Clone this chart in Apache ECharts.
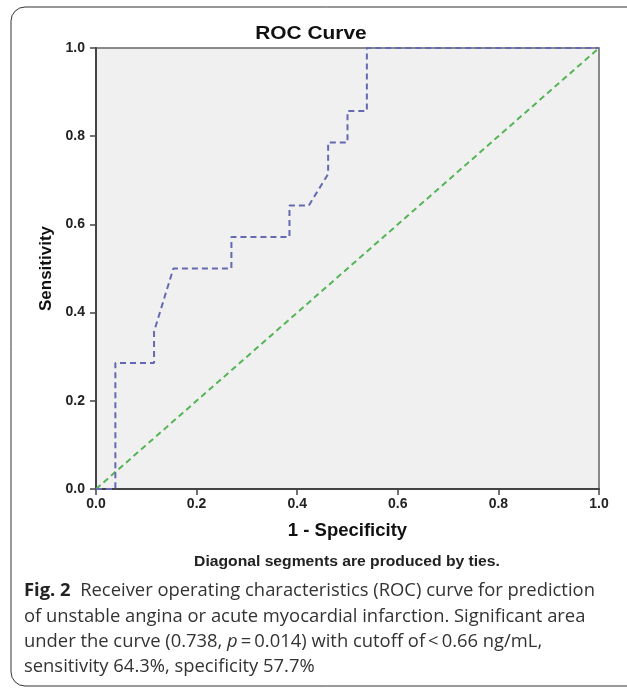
<!DOCTYPE html>
<html><head><meta charset="utf-8">
<script src="https://cdn.jsdelivr.net/npm/echarts@6/dist/echarts.min.js"></script>
<style>html,body{margin:0;padding:0;background:#fff}#c{width:627px;height:688px}</style>
</head><body><div id="c"></div>
<script>
// ROC curve (1 - specificity, sensitivity)
const fpr = [0, 0.0385, 0.0385, 0.1154, 0.1154, 0.1538, 0.2692, 0.2692, 0.3846, 0.3846, 0.4231, 0.4615, 0.4615, 0.5, 0.5, 0.5385, 0.5385, 1.0];
const tpr = [0, 0, 0.2857, 0.2857, 0.3571, 0.5, 0.5, 0.5714, 0.5714, 0.6429, 0.6429, 0.7143, 0.7857, 0.7857, 0.8571, 0.8571, 1.0, 1.0];
// reference line
const refX = [0, 1];
const refY = [0, 1];
const tickLabels = ['0.0', '0.2', '0.4', '0.6', '0.8', '1.0'];
const titleText = 'ROC Curve';
const xName = '1 - Specificity';
const yName = 'Sensitivity';
const noteText = 'Diagonal segments are produced by ties.';
const captionLines = [
  '{b|Fig. 2}  Receiver operating characteristics (ROC) curve for prediction',
  'of unstable angina or acute myocardial infarction. Significant area',
  'under the curve (0.738, {i|p}\u2009=\u20090.014) with cutoff of\u2009<\u20090.66 ng/mL,',
  'sensitivity 64.3%, specificity 57.7%'
];

const spss = "'Liberation Sans', Arial, sans-serif";
const capFont = "'Open Sans', 'Noto Sans', sans-serif";
const capSize = 18.4;

const chart = echarts.init(document.getElementById('c'), null, {renderer: 'canvas'});
const tickFmt = v => tickLabels[Math.round(v / 0.2)];

const graphics = [
  {type: 'rect', z: -10, shape: {x: 11, y: 7, width: 640, height: 679, r: 14},
   style: {fill: '#fff', stroke: '#333', lineWidth: 1}},
  {type: 'text', x: 311, y: 34, scaleX: 1.1, style: {text: titleText, font: "bold 19px " + spss, fill: '#111', align: 'center', verticalAlign: 'middle'}},
  {type: 'text', x: 347, y: 562, scaleX: 1.12, style: {text: noteText, font: "bold 14px " + spss, fill: '#222', align: 'center', verticalAlign: 'middle'}}
];
const capY = [591, 617, 642, 667];
captionLines.forEach((t, i) => {
  graphics.push({type: 'text', x: 24, y: capY[i], style: {
    text: t, fontFamily: capFont, fontSize: capSize, fill: '#333', align: 'left', verticalAlign: 'middle',
    rich: {
      b: {fontFamily: capFont, fontSize: capSize, fontWeight: 'bold', fill: '#222'},
      i: {fontFamily: capFont, fontSize: capSize, fontStyle: 'italic', fill: '#333'}
    }
  }});
});

chart.setOption({
  animation: false,
  backgroundColor: '#fff',
  graphic: graphics,
  grid: {left: 96, top: 48, right: 28, bottom: 199, show: true, backgroundColor: '#f0f0f0', borderColor: '#666', borderWidth: 1.5, containLabel: false},
  xAxis: {
    type: 'value', min: 0, max: 1, interval: 0.2,
    name: xName, nameLocation: 'middle', nameGap: 32,
    nameTextStyle: {fontFamily: spss, fontWeight: 'bold', fontSize: 18.5, color: '#111'},
    axisLine: {show: true, onZero: false, lineStyle: {color: '#444', width: 2}},
    axisTick: {show: true, inside: false, length: 6, lineStyle: {color: '#444', width: 1.5}},
    axisLabel: {margin: 8, formatter: tickFmt, fontFamily: spss, fontWeight: 'bold', fontSize: 14, color: '#222'},
    splitLine: {show: false}
  },
  yAxis: {
    type: 'value', min: 0, max: 1, interval: 0.2,
    name: yName, nameLocation: 'middle', nameGap: 40,
    nameTextStyle: {fontFamily: spss, fontWeight: 'bold', fontSize: 17, color: '#111'},
    axisLine: {show: true, onZero: false, lineStyle: {color: '#444', width: 2}},
    axisTick: {show: true, inside: false, length: 6, lineStyle: {color: '#444', width: 1.5}},
    axisLabel: {margin: 11, formatter: tickFmt, fontFamily: spss, fontWeight: 'bold', fontSize: 14, color: '#222'},
    splitLine: {show: false}
  },
  series: [
    {type: 'line', name: 'Reference', data: refX.map((x, i) => [x, refY[i]]), symbol: 'none', silent: true,
     lineStyle: {color: '#55b455', width: 2, type: [6, 4]}},
    {type: 'line', name: 'ROC', data: fpr.map((x, i) => [x, tpr[i]]), symbol: 'none', silent: true,
     lineStyle: {color: '#6469b2', width: 2, type: [6, 4]}}
  ]
});
</script>
</body></html>
